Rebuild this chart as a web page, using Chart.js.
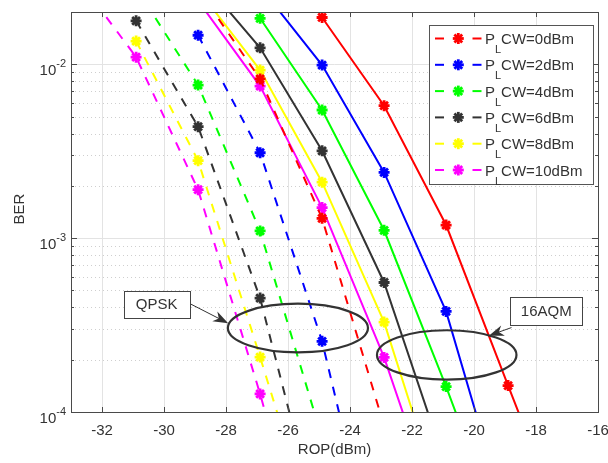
<!DOCTYPE html>
<html><head><meta charset="utf-8">
<script src="https://cdn.jsdelivr.net/npm/chart.js@4/dist/chart.umd.min.js"></script>
<style>html,body{margin:0;padding:0;background:#fff}canvas{display:block}</style>
</head><body>
<canvas id="c" width="608" height="463"></canvas>
<script>
// ---------- data ----------
const ropValues = [-32.9, -30.9, -28.9, -26.9, -24.9, -22.9, -20.9, -18.9, -16.9];
const powerLabels = ['0dBm', '2dBm', '4dBm', '6dBm', '8dBm', '10dBm'];
// QPSK (dashed)
const qpsk0dBm  = [null, null, 0.027, 8.24e-3, 1.30e-3, 8.3e-5, null, null, null];
const qpsk2dBm  = [null, null, 0.0147, 3.1e-3, 2.55e-4, 8.1e-6, null, null, null];
const qpsk4dBm  = [null, 0.0276, 7.6e-3, 1.10e-3, 7.06e-5, null, null, null, null];
const qpsk6dBm  = [null, 0.0178, 4.38e-3, 4.52e-4, 1.83e-5, null, null, null, null];
const qpsk8dBm  = [null, 0.0136, 2.79e-3, 2.07e-4, 1.44e-5, null, null, null, null];
const qpsk10dBm = [0.0332, 0.011, 1.90e-3, 1.27e-4, 6.6e-6, null, null, null, null];
// 16QAM (solid)
const qam0dBm  = [null, null, null, null, 0.0186, 5.78e-3, 1.19e-3, 1.42e-4, 1.72e-5];
const qam2dBm  = [null, null, null, 0.0279, 9.9e-3, 2.39e-3, 3.79e-4, 2.3e-5, null];
const qam4dBm  = [null, null, null, 0.0184, 5.46e-3, 1.11e-3, 1.40e-4, 1.55e-5, null];
const qam6dBm  = [null, null, 0.0326, 0.01245, 3.18e-3, 5.56e-4, 4.85e-5, null, null];
const qam8dBm  = [null, null, 0.0269, 9.27e-3, 2.10e-3, 3.29e-4, 2.48e-5, null, null];
const qam10dBm = [null, null, 0.0232, 7.5e-3, 1.50e-3, 2.06e-4, 1.85e-5, null, null];
const xTicks = [-32, -30, -28, -26, -24, -22, -20, -18, -16];
const yDecadeExponents = [-4, -3, -2];
const xRange = [-33, -16];
const yRange = [1e-4, 2e-2];

// ---------- styles ----------
const palette = ['#ff0000', '#0000ff', '#00ff00', '#333333', '#ffff00', '#ff00ff'];
const FONT = '"Liberation Sans", Arial, Helvetica, sans-serif';
const TXT = '#333333';
const qpskSeries = [qpsk0dBm, qpsk2dBm, qpsk4dBm, qpsk6dBm, qpsk8dBm, qpsk10dBm];
const qamSeries = [qam0dBm, qam2dBm, qam4dBm, qam6dBm, qam8dBm, qam10dBm];

function toPoints(arr) {
  return ropValues.map((x, i) => ({x: x, y: arr[i]})).filter(p => p.y !== null);
}
const datasets = [];
qpskSeries.forEach((s, i) => datasets.push({
  label: 'QPSK ' + powerLabels[i], data: toPoints(s),
  borderColor: palette[i], backgroundColor: palette[i], borderWidth: 2,
  borderDash: [9, 9], pointStyle: 'star', pointRadius: 5.5, pointBorderWidth: 2.8,
  pointBorderColor: palette[i], tension: 0, clip: 0
}));
qamSeries.forEach((s, i) => datasets.push({
  label: '16QAM ' + powerLabels[i], data: toPoints(s),
  borderColor: palette[i], backgroundColor: palette[i], borderWidth: 2,
  pointStyle: 'star', pointRadius: 5.5, pointBorderWidth: 2.8,
  pointBorderColor: palette[i], tension: 0, clip: 0
}));

const notes = [
  {label: 'QPSK', box: {x: -30.24, y: 4.17e-4, w: 66, h: 27},
   ellipse: {x: -25.68, y: 3.04e-4, rx: 2.26, ry: 0.14},
   arrow: {from: [-29.14, 4.18e-4], to: [-27.93, 3.24e-4]}},
  {label: '16AQM', box: {x: -17.67, y: 3.82e-4, w: 72, h: 28},
   ellipse: {x: -20.88, y: 2.13e-4, rx: 2.25, ry: 0.142},
   arrow: {from: [-18.79, 3.06e-4], to: [-19.52, 2.75e-4]}}
];

function line(ctx, x1, y1, x2, y2) { ctx.beginPath(); ctx.moveTo(x1, y1); ctx.lineTo(x2, y2); ctx.stroke(); }

function yTickValues() {
  const out = [];
  yDecadeExponents.forEach(e => {
    for (let m = 1; m <= 9; m++) {
      const v = m * Math.pow(10, e);
      if (v >= yRange[0] * 0.999 && v <= yRange[1] * 1.001) out.push({v: v, major: m === 1});
    }
  });
  return out;
}

const axesPlugin = {
  id: 'matlabAxes',
  beforeDatasetsDraw(chart) {
    const {ctx, chartArea: a, scales: {x, y}} = chart;
    ctx.save();
    ctx.lineWidth = 1;
    ctx.strokeStyle = '#e3e3e3';
    xTicks.forEach(v => { const px = Math.round(x.getPixelForValue(v)) + 0.5; line(ctx, px, a.top, px, a.bottom); });
    yTickValues().forEach(t => {
      const py = Math.round(y.getPixelForValue(t.v)) + 0.5;
      if (t.major) { ctx.setLineDash([]); ctx.strokeStyle = '#e3e3e3'; }
      else { ctx.setLineDash([1, 3]); ctx.strokeStyle = '#cfcfcf'; }
      line(ctx, a.left, py, a.right, py);
    });
    ctx.restore();
  },
  afterDatasetsDraw(chart) {
    const {ctx, chartArea: a, scales: {x, y}} = chart;
    ctx.save();
    // box
    ctx.strokeStyle = '#4a4a4a'; ctx.lineWidth = 1; ctx.setLineDash([]);
    ctx.strokeRect(Math.round(a.left) + 0.5, Math.round(a.top) + 0.5, Math.round(a.right - a.left), Math.round(a.bottom - a.top));
    // ticks
    xTicks.forEach(v => {
      const px = Math.round(x.getPixelForValue(v)) + 0.5;
      line(ctx, px, a.bottom, px, a.bottom - 5);
      line(ctx, px, a.top, px, a.top + 5);
    });
    yTickValues().forEach(t => {
      const py = Math.round(y.getPixelForValue(t.v)) + 0.5;
      const L = t.major ? 6 : 3;
      line(ctx, a.left, py, a.left + L, py);
      line(ctx, a.right, py, a.right - L, py);
    });
    // x labels
    ctx.fillStyle = TXT;
    ctx.font = '15px ' + FONT;
    ctx.textAlign = 'center'; ctx.textBaseline = 'middle';
    xTicks.forEach(v => ctx.fillText(String(v), x.getPixelForValue(v), a.bottom + 19));
    // y labels 10^e
    yDecadeExponents.forEach(e => {
      const py = y.getPixelForValue(Math.pow(10, e));
      const sup = String(e);
      ctx.font = '11px ' + FONT;
      const sw = ctx.measureText(sup).width;
      ctx.textAlign = 'left'; ctx.textBaseline = 'alphabetic';
      const right = a.left - 5;
      ctx.fillText(sup, right - sw, py + 2.5);
      ctx.font = '15px ' + FONT;
      ctx.textAlign = 'right';
      ctx.fillText('10', right - sw, py + 11);
    });
    // axis titles
    ctx.font = '15px ' + FONT;
    ctx.textAlign = 'center'; ctx.textBaseline = 'middle';
    ctx.fillText('ROP(dBm)', (a.left + a.right) / 2, a.bottom + 38);
    ctx.save();
    ctx.translate(20, (a.top + a.bottom) / 2 - 3);
    ctx.rotate(-Math.PI / 2);
    ctx.fillText('BER', 0, 0);
    ctx.restore();

    // annotations
    notes.forEach(n => {
      const cx = x.getPixelForValue(n.ellipse.x), cy = y.getPixelForValue(n.ellipse.y);
      const rx = x.getPixelForValue(n.ellipse.x + n.ellipse.rx) - cx;
      const ry = cy - y.getPixelForValue(n.ellipse.y * Math.pow(10, n.ellipse.ry));
      ctx.strokeStyle = '#333333'; ctx.lineWidth = 2.2;
      ctx.beginPath(); ctx.ellipse(cx, cy, rx, ry, 0, 0, Math.PI * 2); ctx.stroke();
      const sx = x.getPixelForValue(n.arrow.from[0]), sy = y.getPixelForValue(n.arrow.from[1]);
      const tx = x.getPixelForValue(n.arrow.to[0]), ty = y.getPixelForValue(n.arrow.to[1]);
      const d = Math.hypot(tx - sx, ty - sy), ux = (tx - sx) / d, uy = (ty - sy) / d;
      const nx = -uy, ny = ux, AL = 15, AW = 5.5;
      ctx.lineWidth = 1; ctx.strokeStyle = '#333333';
      line(ctx, sx, sy, tx - ux * 8, ty - uy * 8);
      ctx.fillStyle = '#333333';
      ctx.beginPath();
      ctx.moveTo(tx, ty);
      ctx.lineTo(tx - ux * AL + nx * AW, ty - uy * AL + ny * AW);
      ctx.lineTo(tx - ux * AL * 0.7, ty - uy * AL * 0.7);
      ctx.lineTo(tx - ux * AL - nx * AW, ty - uy * AL - ny * AW);
      ctx.closePath(); ctx.fill();
      const bx = x.getPixelForValue(n.box.x), by = y.getPixelForValue(n.box.y);
      const l = Math.round(bx - n.box.w / 2) + 0.5, t = Math.round(by - n.box.h / 2) + 0.5;
      ctx.fillStyle = '#ffffff'; ctx.fillRect(l, t, n.box.w, n.box.h);
      ctx.strokeStyle = '#444444'; ctx.lineWidth = 1; ctx.strokeRect(l, t, n.box.w, n.box.h);
      ctx.fillStyle = TXT; ctx.font = '15px ' + FONT; ctx.textAlign = 'center'; ctx.textBaseline = 'middle';
      ctx.fillText(n.label, bx, by + 1);
    });

    // legend
    const lx = 429.5, ly = 25.5, lw = 164, lh = 159;
    ctx.fillStyle = '#ffffff'; ctx.fillRect(lx, ly, lw, lh);
    ctx.strokeStyle = '#555555'; ctx.lineWidth = 1; ctx.strokeRect(lx, ly, lw, lh);
    powerLabels.forEach((p, i) => {
      const ry = 38.5 + i * 26.3;
      const col = palette[i];
      ctx.strokeStyle = col; ctx.lineWidth = 2;
      line(ctx, 435, ry, 444, ry);
      line(ctx, 472.5, ry, 481.5, ry);
      ctx.lineWidth = 2.8;
      const r = 5.5;
      for (let k = 0; k < 4; k++) {
        const ang = k * Math.PI / 4;
        line(ctx, 458.3 - Math.cos(ang) * r, ry - Math.sin(ang) * r, 458.3 + Math.cos(ang) * r, ry + Math.sin(ang) * r);
      }
      ctx.fillStyle = TXT; ctx.textAlign = 'left'; ctx.textBaseline = 'alphabetic';
      ctx.font = '15px ' + FONT;
      ctx.fillText('P', 485, ry + 5.5);
      const pw = ctx.measureText('P').width;
      ctx.font = '11px ' + FONT;
      ctx.fillText('L', 485 + pw, ry + 14.5);
      const lw2 = ctx.measureText('L').width;
      ctx.font = '15px ' + FONT;
      ctx.fillText('CW=' + p, 485 + pw + lw2, ry + 5.5);
    });
    ctx.restore();
  }
};

new Chart(document.getElementById('c'), {
  type: 'line',
  data: {datasets: datasets},
  options: {
    responsive: false, animation: false, devicePixelRatio: 1,
    events: [],
    layout: {padding: {left: 71, top: 12, right: 10, bottom: 51}},
    plugins: {legend: {display: false}, tooltip: {enabled: false}},
    scales: {
      x: {type: 'linear', min: xRange[0], max: xRange[1], display: false},
      y: {type: 'logarithmic', min: yRange[0], max: yRange[1], display: false}
    }
  },
  plugins: [axesPlugin]
});
</script>
</body></html>
